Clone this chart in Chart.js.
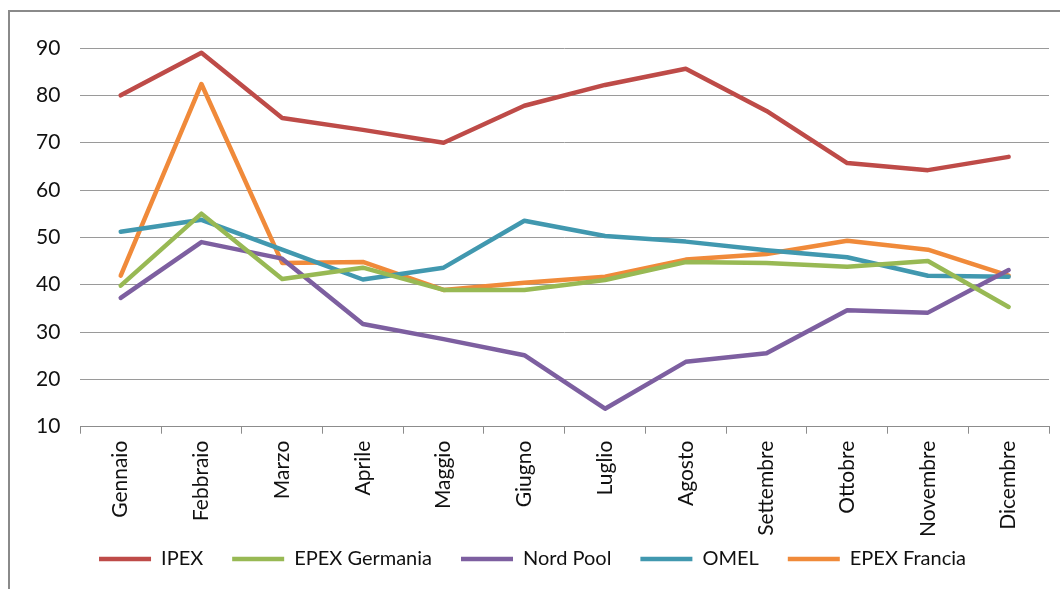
<!DOCTYPE html>
<html>
<head>
<meta charset="UTF-8">
<title>Prezzi mensili borse elettriche</title>
<script src="https://cdn.jsdelivr.net/npm/chart.js"></script>
<style>
    body { margin: 0; background: #fff; }
    #frame {
        position: absolute;
        left: 8px;
        top: 10px;
        width: 1060px;
        height: 600px;
        border: 2px solid #8a8a8a;
    }
    #wrap {
        position: absolute;
        left: 0;
        top: 0;
        width: 1060px;
        height: 589px;
    }
</style>
</head>
<body>
<div id="frame"></div>
<div id="wrap"><canvas id="chart"></canvas></div>
<script>
// months on the x axis
var mesi = ['Gennaio', 'Febbraio', 'Marzo', 'Aprile', 'Maggio', 'Giugno',
            'Luglio', 'Agosto', 'Settembre', 'Ottobre', 'Novembre', 'Dicembre'];

// values
var ipex          = [80, 89, 75.2, 72.7, 70, 77.8, 82.2, 85.6, 76.7, 65.7, 64.2, 67];
var epexGermania  = [39.8, 55, 41.2, 43.6, 38.9, 38.9, 41, 44.8, 44.6, 43.8, 45, 35.3];
var nordPool      = [37.2, 49, 45.5, 31.7, 28.5, 25.1, 13.8, 23.7, 25.5, 34.6, 34.1, 43.1];
var omel          = [51.2, 53.7, 47.4, 41.1, 43.6, 53.5, 50.3, 49.1, 47.3, 45.8, 41.9, 41.7];
var epexFrancia   = [41.9, 82.4, 44.6, 44.8, 38.9, 40.4, 41.7, 45.3, 46.5, 49.3, 47.4, 41.9];

var yTicks = { min: 10, max: 90, step: 10 };

function serie(label, data, color) {
    return {
        label: label,
        data: data,
        borderColor: color,
        backgroundColor: color,
        borderWidth: 4.5,
        borderCapStyle: 'round',
        borderJoinStyle: 'round',
        pointRadius: 0,
        pointStyle: 'line',
        tension: 0
    };
}

// the legend in the original hugs the month labels, so give it less room
// in the layout and let it draw a bit higher than its box
var TRIM = 24;
var legendTrim = {
    id: 'legendTrim',
    afterInit: function (chart) {
        var lg = chart.legend;
        var fit = lg.fit;
        var draw = lg.draw;
        lg.fit = function () {
            fit.call(this);
            this.height -= TRIM;
        };
        lg.draw = function () {
            this.top -= TRIM;
            this.height += TRIM;
            draw.call(this);
            this.top += TRIM;
            this.height -= TRIM;
        };
    }
};

var font = 'Lato, "Open Sans", sans-serif';

new Chart(document.getElementById('chart'), {
    type: 'line',
    data: {
        labels: mesi,
        datasets: [
            serie('IPEX', ipex, '#BE4B48'),
            serie('EPEX Germania', epexGermania, '#98B954'),
            serie('Nord Pool', nordPool, '#7D5FA0'),
            serie('OMEL', omel, '#4198AF'),
            serie('EPEX Francia', epexFrancia, '#F08A3A')
        ]
    },
    plugins: [legendTrim],
    options: {
        responsive: true,
        maintainAspectRatio: false,
        animation: false,
        layout: { padding: { left: 16, right: 11, top: 48, bottom: 10 } },
        plugins: {
            tooltip: { enabled: false },
            legend: {
                position: 'bottom',
                labels: {
                    usePointStyle: true,
                    pointStyleWidth: 52,
                    padding: 29,
                    color: '#111',
                    font: { family: font, size: 20 }
                }
            }
        },
        scales: {
            x: {
                offset: true,
                border: { display: true, color: '#8c8c8c', width: 1 },
                grid: { display: true, offset: true, drawOnChartArea: false, drawTicks: true, tickLength: 7, color: '#8c8c8c' },
                ticks: {
                    color: '#111',
                    maxRotation: 90,
                    minRotation: 90,
                    padding: 7,
                    font: { family: font, size: 21 }
                }
            },
            y: {
                min: yTicks.min,
                max: yTicks.max,
                border: { display: false },
                grid: { color: '#9a9a9a', lineWidth: 1, drawTicks: false },
                ticks: {
                    stepSize: yTicks.step,
                    color: '#111',
                    padding: 20,
                    font: { family: font, size: 21 }
                }
            }
        }
    }
});
</script>
</body>
</html>
